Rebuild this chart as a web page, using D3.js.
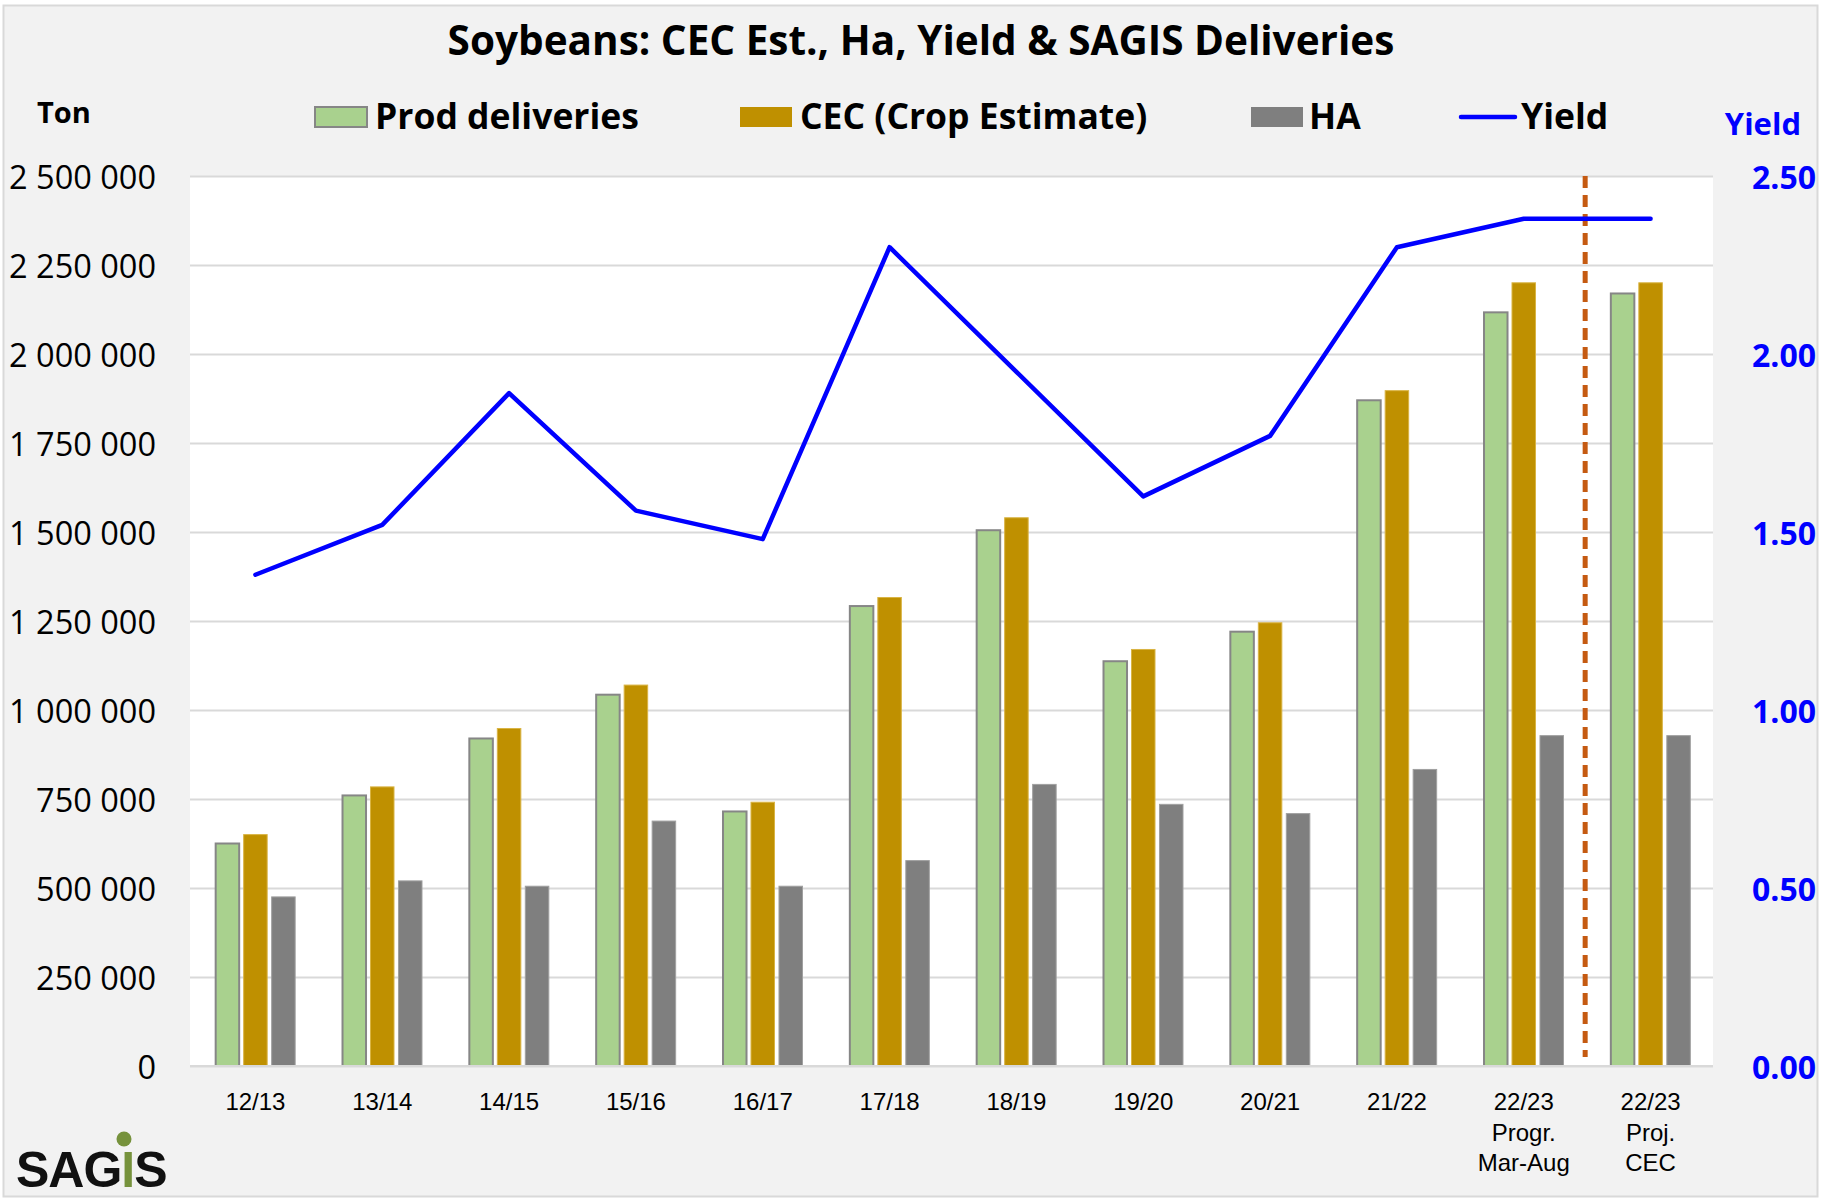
<!DOCTYPE html>
<html><head><meta charset="utf-8">
<script src="https://cdn.jsdelivr.net/npm/d3@7"></script>
<style>body{margin:0;background:#fff;} svg{display:block}</style>
</head><body>
<svg id="c" width="1831" height="1199"></svg>
<script>
// ---- data ----
const categories = ["12/13","13/14","14/15","15/16","16/17","17/18","18/19","19/20","20/21","21/22","22/23\nProgr.\nMar-Aug","22/23\nProj.\nCEC"];
const prodDeliveries = [625000,760000,920000,1043000,715000,1292000,1505000,1137000,1220000,1870000,2117000,2170000];
const cecEstimate   = [650000,784000,948000,1070000,741000,1316000,1540000,1170000,1245000,1897000,2200000,2200000];
const hectares      = [475000,520000,505000,688000,505000,577000,791000,735000,709000,833000,928000,928000];
const yieldValues   = [1.38,1.52,1.89,1.56,1.48,2.30,1.95,1.60,1.77,2.30,2.38,2.38];
const leftTicks  = [0,250000,500000,750000,1000000,1250000,1500000,1750000,2000000,2250000,2500000];
const rightTicks = [0,0.5,1.0,1.5,2.0,2.5];
const seriesNames = ["Prod deliveries","CEC (Crop Estimate)","HA","Yield"];
const titleText = "Soybeans: CEC Est., Ha, Yield & SAGIS Deliveries";

// ---- layout ----
const m = {l:190, r:1713, t:176, b:1066};
const svg = d3.select("#c");
const F = "'Open Sans', sans-serif";

svg.append("rect").attr("x",3.5).attr("y",5.5).attr("width",1814).attr("height",1191)
  .attr("fill","#F2F2F2").attr("stroke","#D9D9D9").attr("stroke-width",2);
svg.append("rect").attr("x",m.l).attr("y",m.t).attr("width",m.r-m.l).attr("height",m.b-m.t).attr("fill","#fff");

const x = d3.scaleBand().domain(d3.range(categories.length)).range([m.l+2,m.r+1]).padding(0);
const sub = d3.scaleBand().domain([0,1,2]).range([0,x.bandwidth()]).paddingInner(0.16).paddingOuter(0.846);
const yL = d3.scaleLinear().domain([0,2500000]).range([m.b,m.t]);
const yR = d3.scaleLinear().domain([0,2.5]).range([m.b,m.t]);

// gridlines
const grid = svg.append("g").attr("transform",`translate(${m.l},0)`)
  .call(d3.axisLeft(yL).tickValues(leftTicks).tickSize(-(m.r-m.l)).tickFormat(""));
grid.select(".domain").remove();
grid.selectAll("line").attr("stroke","#D9D9D9").attr("stroke-width",2);

// left axis labels
const fmtL = v => d3.format(",")(v).replace(/,/g," ");
const ax = svg.append("g").attr("transform",`translate(${m.l},0)`)
  .call(d3.axisLeft(yL).tickValues(leftTicks).tickSize(0).tickPadding(34).tickFormat(fmtL));
ax.select(".domain").remove();
ax.selectAll("text").attr("font-family",F).attr("font-size",32.5).attr("fill","#000").attr("dy","0.38em");

// right axis labels
const axR = svg.append("g").attr("transform",`translate(${m.r},0)`)
  .call(d3.axisRight(yR).tickValues(rightTicks).tickSize(0).tickFormat(d3.format(".2f")));
axR.select(".domain").remove();
axR.selectAll("text").attr("x",103).attr("text-anchor","end").attr("font-family",F)
  .attr("font-weight",700).attr("font-size",32).attr("fill","#0000FF").attr("dy","0.38em");

// x axis labels
const axX = svg.append("g").attr("transform",`translate(0,${m.b})`)
  .call(d3.axisBottom(x).tickSize(0).tickPadding(0).tickFormat(i=>categories[i]));
axX.select(".domain").remove();
axX.selectAll("text").each(function(d){
  const t = d3.select(this); const lines = categories[d].split("\n");
  t.text(null).attr("y",0).attr("dy",null).attr("font-family","'Liberation Sans', Arial, sans-serif")
   .attr("font-size",24).attr("fill","#000");
  lines.forEach((ln,k)=>t.append("tspan").attr("x",0).attr("y",44+k*30.5).text(ln));
});

// bars
const seriesData = [prodDeliveries, cecEstimate, hectares];
const fills = ["#A9D18E","#BF9000","#7F7F7F"];
const strokes = ["#868686","#D9B444","#A0A0A0"];
const sw = [2,1,1];
seriesData.forEach((arr,s)=>{
  svg.append("g").selectAll("rect").data(arr).join("rect")
    .attr("x",(d,i)=>x(i)+sub(s)).attr("width",sub.bandwidth())
    .attr("y",d=>yL(d)).attr("height",d=>yL(0)-yL(d))
    .attr("fill",fills[s]).attr("stroke",strokes[s]).attr("stroke-width",sw[s]);
});

// redraw baseline over bars
svg.append("line").attr("x1",m.l).attr("x2",m.r).attr("y1",yL(0)).attr("y2",yL(0))
  .attr("stroke","#D9D9D9").attr("stroke-width",2);

// divider
const xd = x(categories.length-1) - 2;
svg.append("line").attr("x1",xd).attr("x2",xd).attr("y1",m.t).attr("y2",1057)
  .attr("stroke","#C55A11").attr("stroke-width",5).attr("stroke-dasharray","12,7");

// yield line
const line = d3.line().x((d,i)=>x(i)+x.bandwidth()/2).y(d=>yR(d));
svg.append("path").datum(yieldValues).attr("d",line).attr("fill","none")
  .attr("stroke","#0000FF").attr("stroke-width",4.5).attr("stroke-linecap","round").attr("stroke-linejoin","round");

// title
svg.append("text").attr("x",921).attr("y",55).attr("text-anchor","middle")
  .attr("font-family",F).attr("font-weight",700).attr("font-size",40.5).attr("fill","#000").text(titleText);

// axis titles
svg.append("text").attr("x",37).attr("y",123).attr("font-family",F).attr("font-weight",700)
  .attr("font-size",29).attr("fill","#000").text("Ton");
svg.append("text").attr("x",1801).attr("y",135).attr("text-anchor","end").attr("font-family",F).attr("font-weight",700)
  .attr("font-size",31).attr("fill","#0000FF").text("Yield");

// legend
const leg = [
  {sx:315, tx:375, type:"rect", fill:"#A9D18E", stroke:"#868686"},
  {sx:740, tx:800, type:"rect", fill:"#BF9000", stroke:"none"},
  {sx:1251, tx:1309, type:"rect", fill:"#7F7F7F", stroke:"none"},
  {sx:1461, tx:1521, type:"line", fill:"#0000FF"}
];
leg.forEach((l,i)=>{
  if(l.type==="rect"){
    svg.append("rect").attr("x",l.sx).attr("y",107).attr("width",52).attr("height",20)
      .attr("fill",l.fill).attr("stroke",l.stroke).attr("stroke-width",2);
  } else {
    svg.append("line").attr("x1",l.sx).attr("x2",l.sx+54).attr("y1",117).attr("y2",117)
      .attr("stroke",l.fill).attr("stroke-width",4.5).attr("stroke-linecap","round");
  }
  svg.append("text").attr("x",l.tx).attr("y",129).attr("font-family",F).attr("font-weight",700)
    .attr("font-size",35.5).attr("fill","#000").text(seriesNames[i]);
});

// logo
const logo = svg.append("text").attr("x",16).attr("y",1187).attr("font-family","'Liberation Sans', Arial, sans-serif")
  .attr("font-weight",700).attr("font-size",50).attr("fill","#111").attr("letter-spacing",-1);
logo.append("tspan").text("SAG");
logo.append("tspan").attr("fill","#76923C").text("I");
logo.append("tspan").text("S");
svg.append("circle").attr("cx",124).attr("cy",1139).attr("r",7.5).attr("fill","#76923C");
</script>
</body></html>
